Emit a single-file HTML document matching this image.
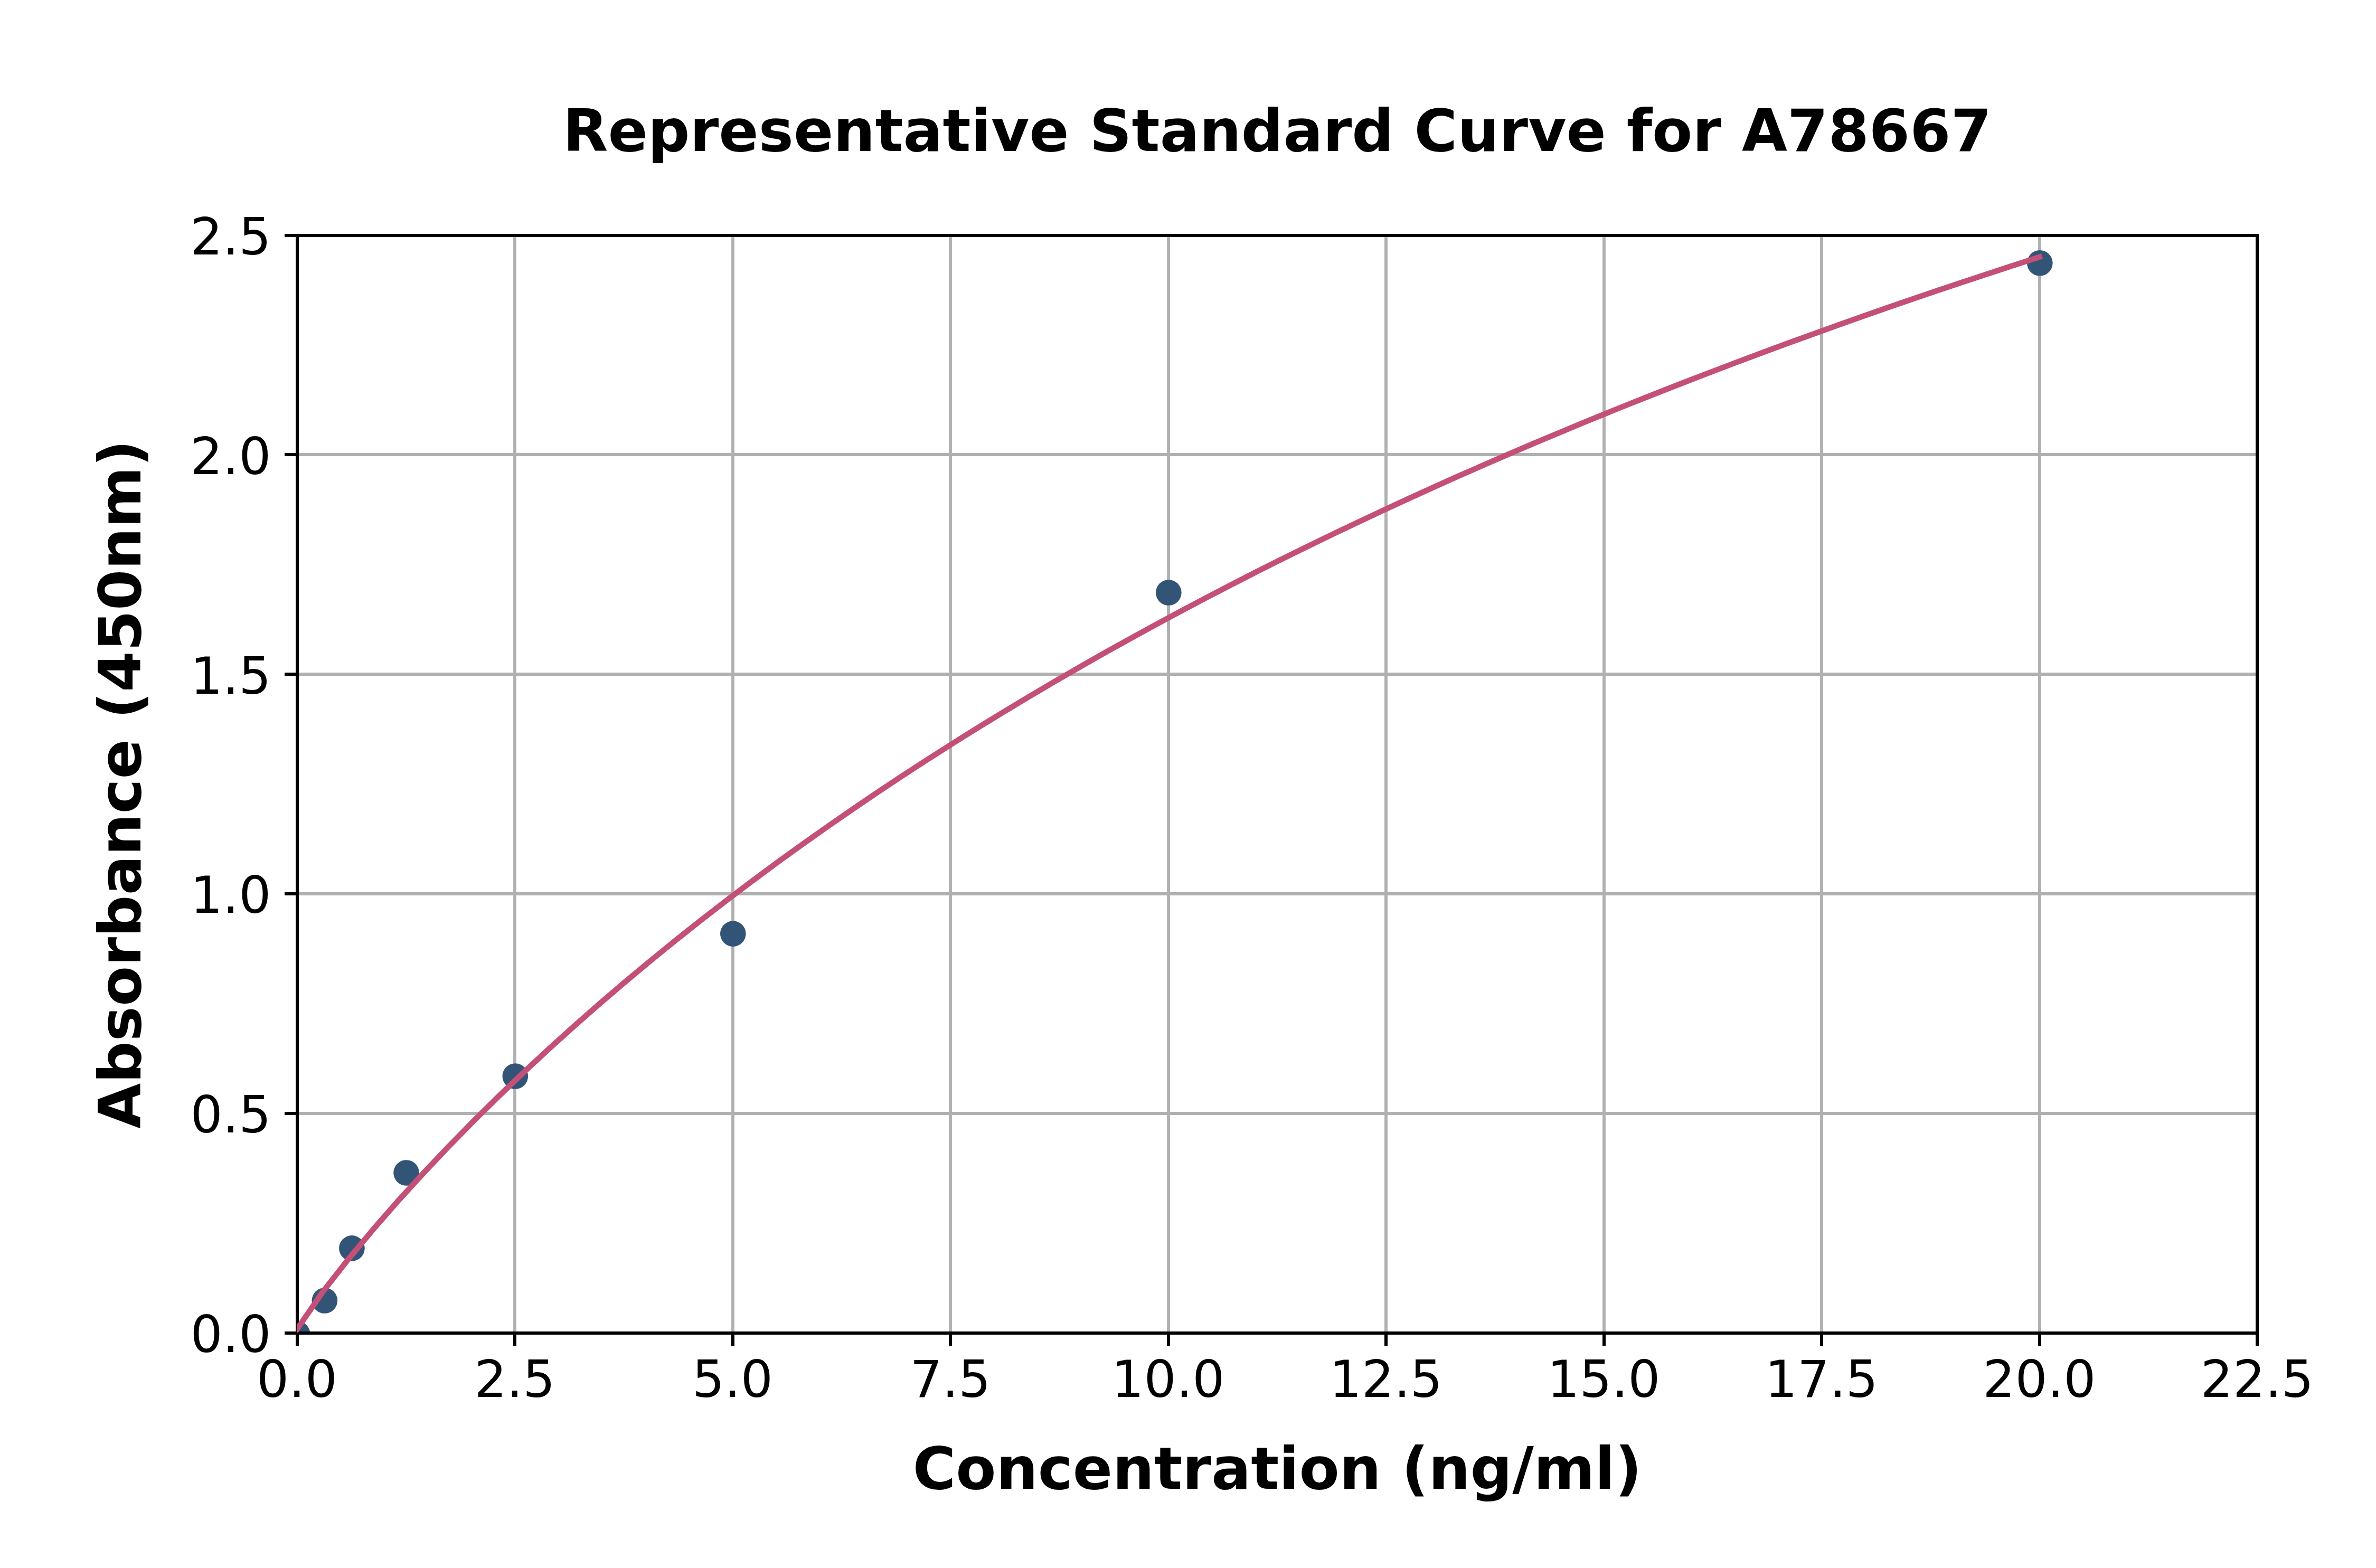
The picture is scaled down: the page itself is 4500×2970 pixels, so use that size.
<!DOCTYPE html>
<html lang="en">
<head>
<meta charset="utf-8">
<title>Representative Standard Curve for A78667</title>
<style>
html,body{margin:0;padding:0;background:#fff;}
body{width:4500px;height:2970px;overflow:hidden;}
svg{display:block;}
text{font-family:"DejaVu Sans","Liberation Sans",sans-serif;fill:#000;}
.tk{font-size:96.2px;}
.bl{font-size:111.1px;font-weight:bold;}
</style>
</head>
<body>
<svg width="4500" height="2970" viewBox="0 0 4500 2970">
<defs><clipPath id="ax"><rect x="562.5" y="445.5" width="3712.5" height="2079.0"/></clipPath></defs>
<rect x="0" y="0" width="4500" height="2970" fill="#ffffff"/>
<path d="M563 445.50V2524.50M975 445.50V2524.50M1388 445.50V2524.50M1800 445.50V2524.50M2213 445.50V2524.50M2625 445.50V2524.50M3038 445.50V2524.50M3450 445.50V2524.50M3863 445.50V2524.50M4275 445.50V2524.50M562.50 2525H4275.00M562.50 2109H4275.00M562.50 1693H4275.00M562.50 1277H4275.00M562.50 861H4275.00M562.50 446H4275.00" stroke="#b0b0b0" stroke-width="5.8" fill="none"/>
<g clip-path="url(#ax)" fill="#325477">
<circle cx="563.30" cy="2526.99" r="24.3"/>
<circle cx="614.86" cy="2463.54" r="24.3"/>
<circle cx="666.42" cy="2364.42" r="24.3"/>
<circle cx="769.55" cy="2221.46" r="24.3"/>
<circle cx="975.80" cy="2038.51" r="24.3"/>
<circle cx="1388.30" cy="1768.58" r="24.3"/>
<circle cx="2213.30" cy="1122.51" r="24.3"/>
<circle cx="3863.30" cy="498.31" r="24.3"/>
</g>
<path d="M563 2525v24M975 2525v24M1388 2525v24M1800 2525v24M2213 2525v24M2625 2525v24M3038 2525v24M3450 2525v24M3863 2525v24M4275 2525v24M563 2525h-24M563 2109h-24M563 1693h-24M563 1277h-24M563 861h-24M563 446h-24" stroke="#000" stroke-width="6" fill="none"/>
<rect x="563" y="446" width="3712" height="2079" fill="none" stroke="#000" stroke-width="6"/>
<g clip-path="url(#ax)"><path d="M562.50 2517.95 L610.33 2448.27 L658.15 2387.01 L705.98 2329.52 L753.80 2274.79 L801.63 2222.33 L849.46 2171.82 L897.28 2123.05 L945.11 2075.86 L992.93 2030.10 L1040.76 1985.69 L1088.59 1942.51 L1136.41 1900.51 L1184.24 1859.61 L1232.07 1819.75 L1279.89 1780.88 L1327.72 1742.95 L1375.54 1705.91 L1423.37 1669.73 L1471.20 1634.36 L1519.02 1599.78 L1566.85 1565.96 L1614.67 1532.85 L1662.50 1500.44 L1710.33 1468.69 L1758.15 1437.60 L1805.98 1407.12 L1853.80 1377.24 L1901.63 1347.95 L1949.46 1319.21 L1997.28 1291.02 L2045.11 1263.35 L2092.93 1236.19 L2140.76 1209.52 L2188.59 1183.33 L2236.41 1157.60 L2284.24 1132.32 L2332.07 1107.48 L2379.89 1083.07 L2427.72 1059.07 L2475.54 1035.46 L2523.37 1012.25 L2571.20 989.42 L2619.02 966.96 L2666.85 944.85 L2714.67 923.10 L2762.50 901.69 L2810.33 880.61 L2858.15 859.85 L2905.98 839.41 L2953.80 819.28 L3001.63 799.45 L3049.46 779.92 L3097.28 760.67 L3145.11 741.70 L3192.93 723.01 L3240.76 704.58 L3288.59 686.41 L3336.41 668.50 L3384.24 650.84 L3432.07 633.42 L3479.89 616.25 L3527.72 599.30 L3575.54 582.59 L3623.37 566.09 L3671.20 549.82 L3719.02 533.76 L3766.85 517.91 L3814.67 502.27 L3862.50 486.82" stroke="#c45078" stroke-width="10.6" fill="none" stroke-linecap="square" stroke-linejoin="round"/></g>
<text class="tk" x="562.40" y="2646.2" text-anchor="middle">0.0</text>
<text class="tk" x="974.90" y="2646.2" text-anchor="middle">2.5</text>
<text class="tk" x="1387.40" y="2646.2" text-anchor="middle">5.0</text>
<text class="tk" x="1799.90" y="2646.2" text-anchor="middle">7.5</text>
<text class="tk" x="2212.40" y="2646.2" text-anchor="middle">10.0</text>
<text class="tk" x="2624.90" y="2646.2" text-anchor="middle">12.5</text>
<text class="tk" x="3037.40" y="2646.2" text-anchor="middle">15.0</text>
<text class="tk" x="3449.90" y="2646.2" text-anchor="middle">17.5</text>
<text class="tk" x="3862.40" y="2646.2" text-anchor="middle">20.0</text>
<text class="tk" x="4274.90" y="2646.2" text-anchor="middle">22.5</text>
<text class="tk" x="513.4" y="2561.00" text-anchor="end">0.0</text>
<text class="tk" x="513.4" y="2145.20" text-anchor="end">0.5</text>
<text class="tk" x="513.4" y="1729.40" text-anchor="end">1.0</text>
<text class="tk" x="513.4" y="1313.60" text-anchor="end">1.5</text>
<text class="tk" x="513.4" y="897.80" text-anchor="end">2.0</text>
<text class="tk" x="513.4" y="482.00" text-anchor="end">2.5</text>
<text class="bl" x="2418.9" y="286.1" text-anchor="middle" style="letter-spacing:0.05px">Representative Standard Curve for A78667</text>
<text class="bl" x="2419.1" y="2820" text-anchor="middle" style="letter-spacing:0.04px">Concentration (ng/ml)</text>
<text class="bl" transform="translate(266 1485.4) rotate(-90)" text-anchor="middle">Absorbance (450nm)</text>
</svg>
</body>
</html>
